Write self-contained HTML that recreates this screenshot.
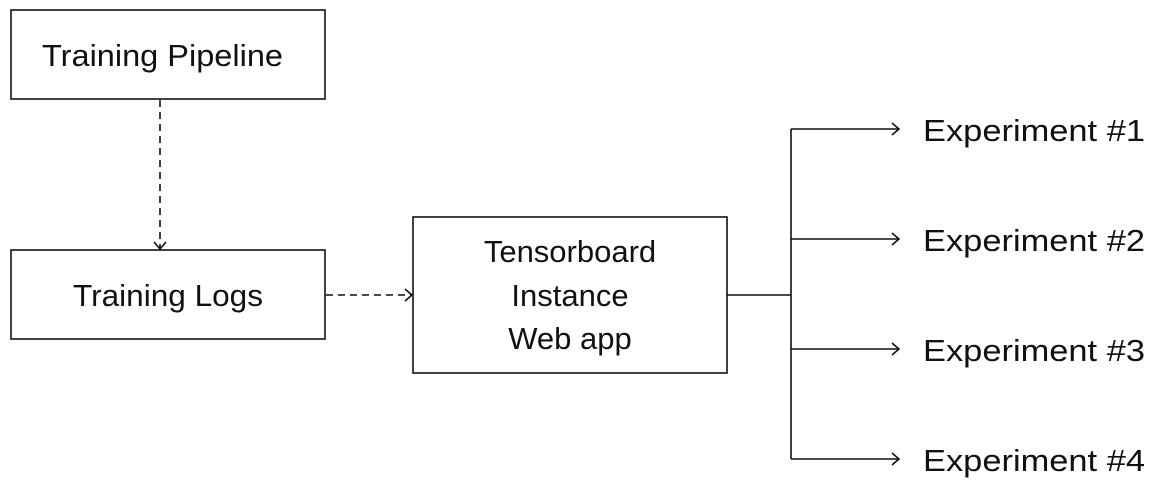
<!DOCTYPE html>
<html><head><meta charset="utf-8"><style>
html,body{margin:0;padding:0;background:#fff;}
svg text{font-family:"Liberation Sans",sans-serif;fill:#111;}
</style></head><body>
<svg width="1153" height="488" viewBox="0 0 1153 488" xmlns="http://www.w3.org/2000/svg">
<g fill="none" stroke="#111" stroke-width="1.6">
<rect x="11" y="10" width="314" height="89"/>
<rect x="11" y="250" width="314" height="89"/>
<rect x="413" y="217" width="314" height="156"/>
<line x1="160" y1="100" x2="160" y2="248" stroke-dasharray="7,5"/>
<polyline points="154,242 160,249 166,242"/>
<line x1="326" y1="295" x2="411" y2="295" stroke-dasharray="7,5"/>
<polyline points="405,289 412,295 405,301"/>
<line x1="727" y1="295" x2="791" y2="295"/>
<line x1="791" y1="129" x2="791" y2="459"/>
<line x1="791" y1="129" x2="899" y2="129"/>
<line x1="791" y1="239" x2="899" y2="239"/>
<line x1="791" y1="349" x2="899" y2="349"/>
<line x1="791" y1="459" x2="899" y2="459"/>
<polyline points="892,123 899,129 892,135"/>
<polyline points="892,233 899,239 892,245"/>
<polyline points="892,343 899,349 892,355"/>
<polyline points="892,453 899,459 892,465"/>
</g>
<g font-size="31">
<text x="42" y="66" textLength="241" lengthAdjust="spacingAndGlyphs">Training Pipeline</text>
<text x="73" y="306" textLength="190" lengthAdjust="spacingAndGlyphs">Training Logs</text>
<text x="570" y="262" text-anchor="middle">Tensorboard</text>
<text x="570" y="306" text-anchor="middle">Instance</text>
<text x="570" y="349" text-anchor="middle">Web app</text>
<text x="923" y="141" textLength="222" lengthAdjust="spacingAndGlyphs">Experiment #1</text>
<text x="923" y="251" textLength="222" lengthAdjust="spacingAndGlyphs">Experiment #2</text>
<text x="923" y="361" textLength="222" lengthAdjust="spacingAndGlyphs">Experiment #3</text>
<text x="923" y="471" textLength="222" lengthAdjust="spacingAndGlyphs">Experiment #4</text>
</g>
</svg>
</body></html>
